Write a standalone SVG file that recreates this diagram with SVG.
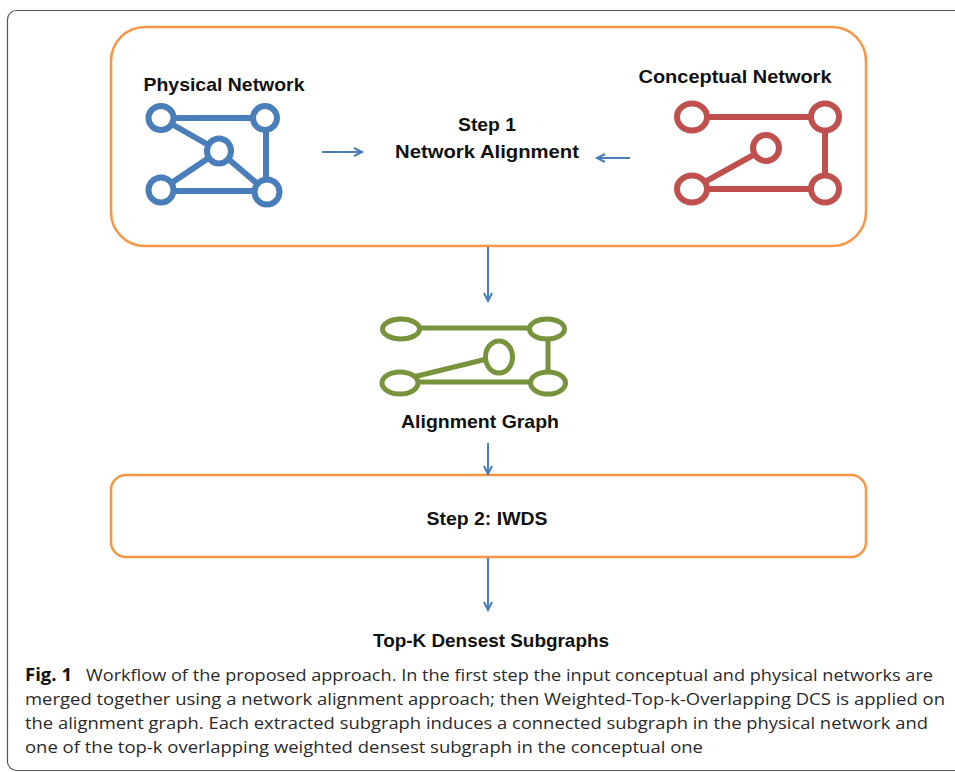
<svg xmlns="http://www.w3.org/2000/svg" width="955" height="772" viewBox="0 0 955 772">
<style>
.lbl{font-family:"Liberation Sans",Arial,sans-serif;font-weight:bold;font-size:19px;fill:#111}
.cap{font-family:"Open Sans","Noto Sans",sans-serif;font-size:17px;fill:#2a2a2a}
.box{fill:none;stroke:#f79646;stroke-width:2.5}
.conn{stroke:#4a7ebb;stroke-width:2;fill:none}
.blue{stroke:#4a7ebb;stroke-width:6;fill:#fff}
.red{stroke:#c0504d;stroke-width:6;fill:#fff}
.green{stroke:#77933c;stroke-width:5;fill:#fff}
</style>
<defs>
<marker id="ah" markerWidth="12" markerHeight="12" refX="9" refY="5" orient="auto" markerUnits="userSpaceOnUse">
<polyline points="1,1 9,5 1,9" fill="none" stroke="#4a7ebb" stroke-width="2"/>
</marker>
</defs>
<rect width="955" height="772" fill="#fff"/>
<rect x="7.5" y="10.5" width="960" height="760" rx="9" fill="none" stroke="#555" stroke-width="1.2"/>

<g id="step1">
<rect class="box" x="111" y="27" width="755" height="219" rx="34"/>
<text class="lbl" x="487" y="131" text-anchor="middle" textLength="58" lengthAdjust="spacingAndGlyphs">Step 1</text>
<text class="lbl" x="487" y="158" text-anchor="middle" textLength="184" lengthAdjust="spacingAndGlyphs">Network Alignment</text>
</g>

<g id="physical">
<text class="lbl" x="224" y="91" text-anchor="middle" textLength="161" lengthAdjust="spacingAndGlyphs">Physical Network</text>
<g stroke="#4a7ebb" stroke-width="6">
<line x1="161" y1="118" x2="265" y2="118"/>
<line x1="161" y1="118" x2="219" y2="151"/>
<line x1="219" y1="151" x2="161" y2="190"/>
<line x1="219" y1="151" x2="267" y2="192"/>
<line x1="161" y1="191" x2="267" y2="191"/>
<line x1="266" y1="118" x2="266" y2="192"/>
</g>
<ellipse class="blue" cx="161" cy="118" rx="12.5" ry="12"/>
<ellipse class="blue" cx="265" cy="118" rx="12" ry="12"/>
<ellipse class="blue" cx="219" cy="151" rx="12" ry="12.5"/>
<ellipse class="blue" cx="161" cy="190" rx="12.5" ry="12.5"/>
<ellipse class="blue" cx="267" cy="192" rx="12.5" ry="12.5"/>
</g>

<g id="conceptual">
<text class="lbl" x="735" y="83" text-anchor="middle" textLength="193" lengthAdjust="spacingAndGlyphs">Conceptual Network</text>
<g stroke="#c0504d" stroke-width="6">
<line x1="692" y1="117" x2="825" y2="117"/>
<line x1="825" y1="117" x2="825" y2="189"/>
<line x1="692" y1="189" x2="825" y2="189"/>
<line x1="692" y1="189" x2="766" y2="148"/>
</g>
<ellipse class="red" cx="692" cy="117" rx="15" ry="13.5"/>
<ellipse class="red" cx="825" cy="117" rx="14" ry="13.5"/>
<ellipse class="red" cx="766" cy="148" rx="13" ry="13"/>
<ellipse class="red" cx="692" cy="189" rx="15" ry="13.5"/>
<ellipse class="red" cx="825" cy="189" rx="14" ry="13.5"/>
</g>

<g id="alignment-graph">
<g stroke="#77933c" stroke-width="5">
<line x1="401" y1="328" x2="547" y2="328"/>
<line x1="548" y1="329" x2="548" y2="383"/>
<line x1="401" y1="382" x2="548" y2="382"/>
<line x1="401" y1="380" x2="499" y2="356"/>
</g>
<ellipse class="green" cx="401" cy="329" rx="18.5" ry="10"/>
<ellipse class="green" cx="547" cy="329" rx="17.5" ry="10"/>
<ellipse class="green" cx="499" cy="357" rx="13.5" ry="16"/>
<ellipse class="green" cx="400" cy="383" rx="18" ry="11"/>
<ellipse class="green" cx="548" cy="383" rx="17.5" ry="11"/>
<text class="lbl" x="480" y="428" text-anchor="middle" textLength="158" lengthAdjust="spacingAndGlyphs">Alignment Graph</text>
</g>

<g id="step2">
<rect class="box" x="111" y="475" width="755" height="82" rx="15"/>
<text class="lbl" x="487" y="525" text-anchor="middle" textLength="121" lengthAdjust="spacingAndGlyphs">Step 2: IWDS</text>
</g>

<g id="result">
<text class="lbl" x="491" y="647" text-anchor="middle" textLength="236" lengthAdjust="spacingAndGlyphs">Top-K Densest Subgraphs</text>
</g>

<g id="connectors">
<line class="conn" x1="322" y1="152" x2="362" y2="152" marker-end="url(#ah)"/>
<line class="conn" x1="630" y1="158" x2="597" y2="158" marker-end="url(#ah)"/>
<line class="conn" x1="488" y1="247" x2="488" y2="301" marker-end="url(#ah)"/>
<line class="conn" x1="488" y1="443" x2="488" y2="474" marker-end="url(#ah)"/>
<line class="conn" x1="488" y1="558" x2="488" y2="610" marker-end="url(#ah)"/>
</g>

<g id="caption">
<text class="cap" x="25" y="681"><tspan font-weight="bold" fill="#111" textLength="47" lengthAdjust="spacingAndGlyphs">Fig. 1</tspan><tspan x="86" textLength="847" lengthAdjust="spacingAndGlyphs">Workflow of the proposed approach. In the first step the input conceptual and physical networks are</tspan></text>
<text class="cap" x="25" y="705" textLength="920" lengthAdjust="spacingAndGlyphs">merged together using a network alignment approach; then Weighted-Top-k-Overlapping DCS is applied on</text>
<text class="cap" x="25" y="729" textLength="903" lengthAdjust="spacingAndGlyphs">the alignment graph. Each extracted subgraph induces a connected subgraph in the physical network and</text>
<text class="cap" x="25" y="753" textLength="678" lengthAdjust="spacingAndGlyphs">one of the top-k overlapping weighted densest subgraph in the conceptual one</text>
</g>
</svg>
